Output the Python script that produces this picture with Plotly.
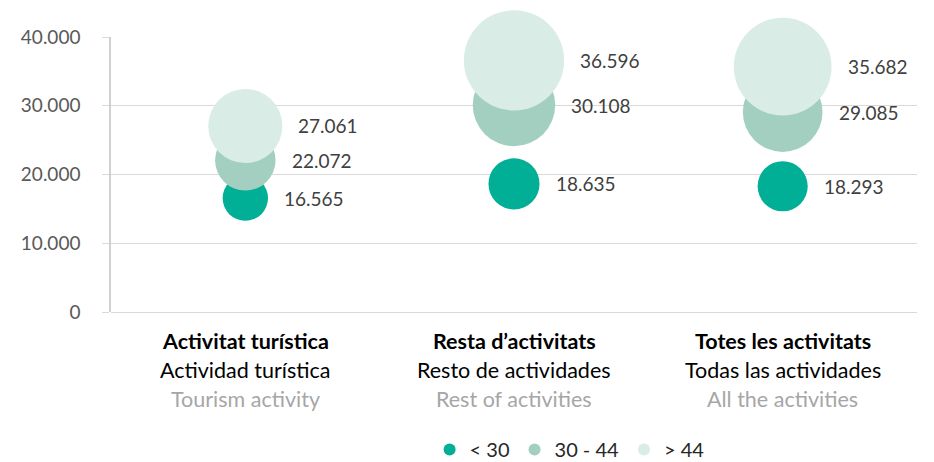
import plotly.graph_objects as go

categories = ["Activitat turística", "Resta d'activitats", "Totes les activitats"]
labels_ca = ["Activitat turística", "Resta d’activitats", "Totes les activitats"]
labels_es = ["Actividad turística", "Resto de actividades", "Todas las actividades"]
labels_en = ["Tourism activity", "Rest of activities", "All the activities"]

series_names = ["< 30", "30 - 44", "> 44"]
values_lt30 = [16565, 18635, 18293]
values_30_44 = [22072, 30108, 29085]
values_gt44 = [27061, 36596, 35682]

yticks = [0, 10000, 20000, 30000, 40000]

colors = ["#00AF96", "#A3CFC1", "#D9ECE6"]
FONT = "Lato"
SIZEREF = 365.0

fig = go.Figure()
annotations = []
for name, vals, col in zip(series_names, [values_lt30, values_30_44, values_gt44], colors):
    fig.add_trace(go.Scatter(
        x=categories, y=vals, mode="markers", name=name,
        marker=dict(size=vals, sizemode="diameter", sizeref=SIZEREF, color=col,
                    line=dict(width=0), opacity=1),
        cliponaxis=False, hoverinfo="skip",
    ))
    for c, v in zip(categories, vals):
        annotations.append(dict(
            x=c, y=v, xref="x", yref="y", xanchor="left", yanchor="middle",
            xshift=v / SIZEREF / 2 + 14, showarrow=False,
            text=f"{v:,}".replace(",", "."),
            font=dict(family=FONT, size=19, color="#404040"),
        ))

for c, a, b, e in zip(categories, labels_ca, labels_es, labels_en):
    for txt, shift, col, bold in [(a, -29, "#000000", True), (b, -58, "#000000", False), (e, -87, "#A6A6A6", False)]:
        annotations.append(dict(
            x=c, y=0, xref="x", yref="paper", xanchor="center", yanchor="middle",
            yshift=shift, showarrow=False,
            text=f"<b>{txt}</b>" if bold else txt,
            font=dict(family=FONT, size=21.5, color=col),
        ))

fig.update_layout(
    width=926, height=454,
    margin=dict(l=103, r=17, t=29, b=150, autoexpand=False),
    paper_bgcolor="white", plot_bgcolor="white",
    separators=",.",
    font=dict(family=FONT, size=19, color="#595959"),
    showlegend=True,
    legend=dict(orientation="h", x=0.569, xanchor="center", y=-0.50, yanchor="middle",
                font=dict(family=FONT, size=20, color="#262626"), itemsizing="constant",
                bgcolor="rgba(0,0,0,0)", itemwidth=30),
    annotations=annotations,
    xaxis=dict(type="category", range=[-0.5, 2.5], showticklabels=False, showgrid=False,
               zeroline=False, showline=False, ticks="", automargin=False),
    yaxis=dict(range=[0, 40000], tickvals=yticks, tickformat=",d", automargin=False,
               showgrid=True, gridcolor="#D9D9D9", gridwidth=1.3,
               zeroline=True, zerolinecolor="#D9D9D9", zerolinewidth=1.3,
               showline=True, linecolor="#D0D0D0", linewidth=1.5,
               ticks="outside", ticklen=7, tickcolor="#D9D9D9", tickwidth=1.3,
               ticklabelstandoff=18,
               tickfont=dict(family=FONT, size=19, color="#595959")),
)

fig.write_html("out.html")
